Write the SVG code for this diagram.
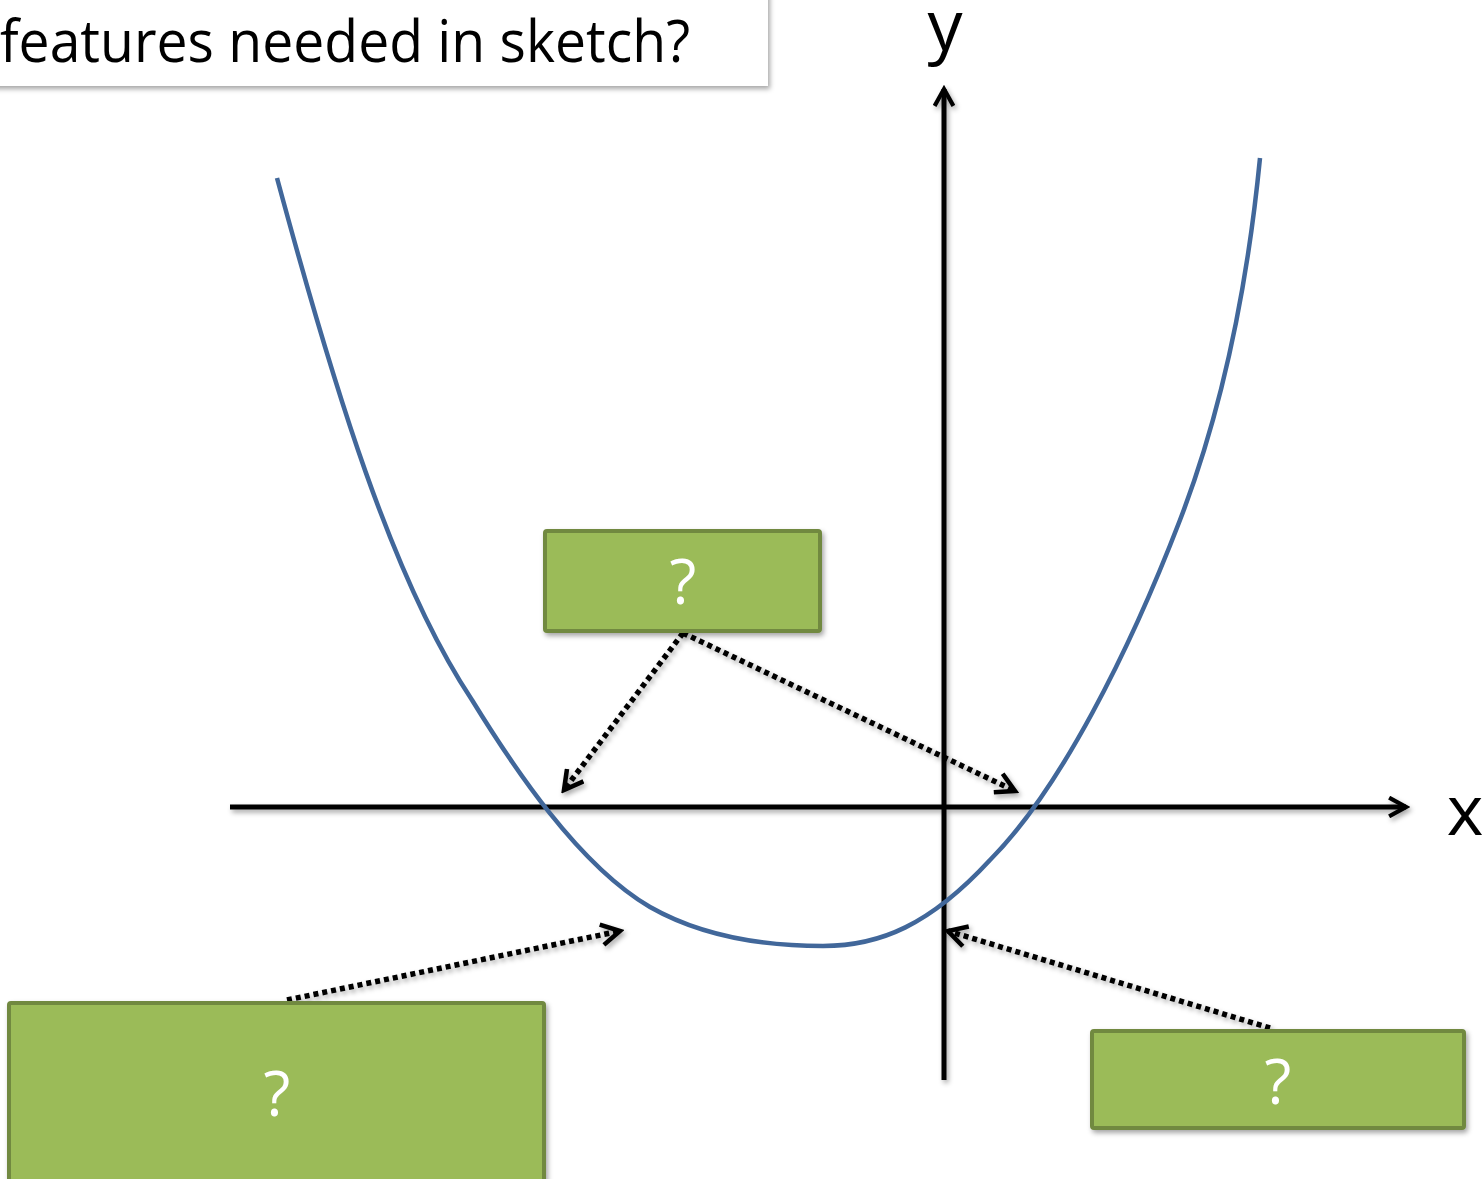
<svg xmlns="http://www.w3.org/2000/svg" width="1484" height="1179" viewBox="0 0 1484 1179">
<style>
.box{fill:#9BBB59;stroke:#71893F;stroke-width:4}
.q{font-family:"Open Sans","Noto Sans",sans-serif;font-size:62px;fill:#fff;text-anchor:middle}
.axis{stroke:#000;stroke-width:5;fill:none}
.dot{stroke:#000;stroke-width:5.5;stroke-dasharray:5 4;fill:none}
.lbl{font-family:"Open Sans","Noto Sans",sans-serif;font-size:70px;fill:#000;text-anchor:middle}
</style>
<defs>
<filter id="sh" x="-10%" y="-10%" width="130%" height="140%">
<feDropShadow dx="2" dy="3" stdDeviation="2.5" flood-color="#000" flood-opacity="0.35"/>
</filter>
<marker id="ah" viewBox="0 0 12 12" refX="10" refY="6" markerWidth="4.5" markerHeight="4.5" orient="auto" markerUnits="strokeWidth">
<path d="M1,1 L10,6 L1,11" fill="none" stroke="#000" stroke-width="2.2"/>
</marker>
</defs>
<rect width="1484" height="1179" fill="#fff"/>
<g id="title">
<rect x="-10" y="-10" width="778" height="96" fill="#fff" filter="url(#sh)"/>
<text x="0" y="62" font-family="'Open Sans','Noto Sans',sans-serif" font-size="58" textLength="690" lengthAdjust="spacingAndGlyphs">features needed in sketch?</text>
</g>
<g id="axes" filter="url(#sh)">
<line class="axis" x1="944" y1="1080" x2="944" y2="89" marker-end="url(#ah)"/>
<line class="axis" x1="230" y1="807" x2="1406" y2="807" marker-end="url(#ah)"/>
</g>
<text class="lbl" x="945" y="50">y</text>
<text class="lbl" x="1465" y="835">x</text>
<g id="curve">
<path d="M277,178 C333,385 392,580 472,700 C512,765 578,865 650,907 C708,940 772,946 823,946 C880,946 930,925 990,860 C1060,790 1130,650 1180,520 C1230,390 1250,260 1260,158" fill="none" stroke="#41679A" stroke-width="4.5"/>
</g>
<g id="connectors" filter="url(#sh)">
<line class="dot" x1="683" y1="633" x2="564" y2="790" marker-end="url(#ah)"/>
<line class="dot" x1="683" y1="633" x2="1015" y2="791" marker-end="url(#ah)"/>
<line class="dot" x1="287" y1="1000" x2="620" y2="931" marker-end="url(#ah)"/>
<line class="dot" x1="1270" y1="1028" x2="948" y2="931" marker-end="url(#ah)"/>
</g>
<g id="box-top" filter="url(#sh)">
<rect class="box" x="545" y="531" width="275" height="100" rx="2"/>
<text class="q" x="683" y="604">?</text>
</g>
<g id="box-left" filter="url(#sh)">
<rect class="box" x="9" y="1003" width="535" height="180" rx="2"/>
<text class="q" x="277" y="1116">?</text>
</g>
<g id="box-right" filter="url(#sh)">
<rect class="box" x="1092" y="1031" width="372" height="97" rx="2"/>
<text class="q" x="1278" y="1104">?</text>
</g>
</svg>
